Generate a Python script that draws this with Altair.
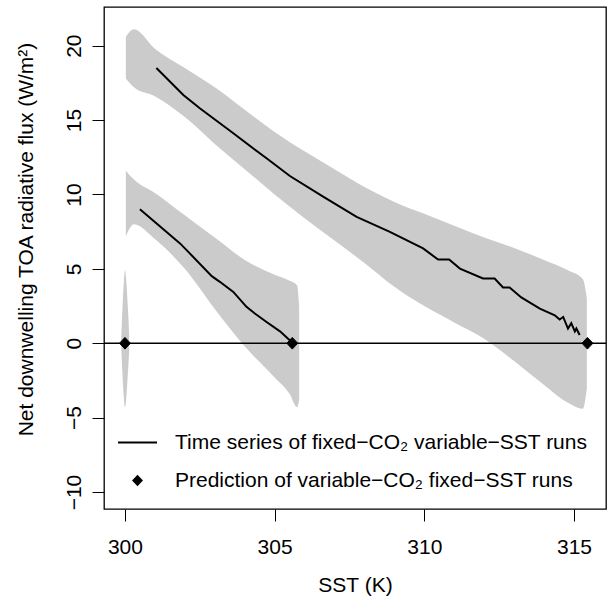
import altair as alt
import pandas as pd

FONT = "Liberation Sans"

# ---- grey point clouds (envelopes) ----
cloud_a_x = [300.03, 300.3, 301.0, 302.0, 303.0, 304.0, 305.0, 306.0, 307.0, 308.0,
             309.0, 310.0, 311.0, 312.0, 313.0, 314.0, 314.8, 315.3, 315.43]
cloud_a_hi = [20.6, 21.1, 19.8, 18.5, 17.2, 15.7, 14.2, 12.9, 11.7, 10.5,
              9.5, 8.7, 7.9, 7.1, 6.4, 5.6, 4.9, 4.3, 3.0]
cloud_a_lo = [17.8, 17.2, 16.6, 15.2, 13.4, 11.7, 10.0, 8.4, 6.9, 5.4,
              3.8, 2.5, 1.4, 0.3, -1.2, -2.8, -4.0, -4.4, -3.0]

cloud_b_x = [300.03, 300.3, 301.0, 302.0, 303.0, 304.0, 305.0, 305.5, 305.75, 305.82]
cloud_b_hi = [11.6, 11.0, 10.1, 8.6, 7.1, 5.6, 4.6, 4.2, 3.9, 2.5]
cloud_b_lo = [7.2, 8.0, 7.0, 5.0, 2.3, -0.2, -2.3, -3.4, -4.3, -3.8]

cloud_c_x = [299.88, 299.92, 299.96, 300.0, 300.04, 300.08, 300.12, 300.14]
cloud_c_hi = [0.5, 2.5, 4.0, 4.9, 4.3, 3.0, 1.5, 0.5]
cloud_c_lo = [-0.5, -2.2, -3.6, -4.3, -3.8, -2.6, -1.3, -0.5]

# ---- time series of fixed-CO2 variable-SST runs ----
line_a_x = [301.05, 301.95, 302.5, 303.62, 304.73, 305.51, 306.62, 307.74, 308.85, 309.96,
            310.46, 310.83, 311.19, 311.96, 312.35, 312.63, 312.85, 313.24, 313.86, 314.36,
            314.52, 314.64, 314.8, 314.91, 315.03, 315.08, 315.19]
line_a_y = [18.5, 16.69, 15.79, 14.11, 12.43, 11.24, 9.85, 8.5, 7.49, 6.37,
            5.63, 5.63, 5.02, 4.35, 4.35, 3.75, 3.75, 3.08, 2.33, 1.88,
            1.6, 1.77, 0.99, 1.35, 0.8, 0.99, 0.56]

line_b_x = [300.5, 301.84, 302.06, 302.9, 303.17, 303.62, 304.06, 304.34, 304.73, 305.18, 305.45, 305.56]
line_b_y = [9.0, 6.71, 6.26, 4.51, 4.13, 3.45, 2.45, 2.0, 1.43, 0.8, 0.31, 0.12]

# ---- prediction of variable-CO2 fixed-SST runs ----
pred_x = [300.0, 305.59, 315.45]
pred_y = [0.0, 0.0, 0.0]

LBL_LINE = "Time series of fixed\u2212CO\u2082 variable\u2212SST runs"
LBL_PRED = "Prediction of variable\u2212CO\u2082 fixed\u2212SST runs"

x_ticks = [300, 305, 310, 315]
y_ticks = [-10, -5, 0, 5, 10, 15, 20]

rows = []
for cid, xs, his, los in [("a", cloud_a_x, cloud_a_hi, cloud_a_lo),
                          ("b", cloud_b_x, cloud_b_hi, cloud_b_lo),
                          ("c", cloud_c_x, cloud_c_hi, cloud_c_lo)]:
    for x, h, l in zip(xs, his, los):
        rows.append({"cloud": cid, "sst": x, "hi": h, "lo": l})
clouds = pd.DataFrame(rows)

lrows = []
for rid, xs, ys in [("a", line_a_x, line_a_y), ("b", line_b_x, line_b_y)]:
    for x, y in zip(xs, ys):
        lrows.append({"run": rid, "sst": x, "flux": y, "series": LBL_LINE})
lines = pd.DataFrame(lrows)

pred = pd.DataFrame({"sst": pred_x, "flux": pred_y, "series": [LBL_PRED] * len(pred_x)})
zero = pd.DataFrame({"flux": [0.0]})

xscale = alt.Scale(domain=[299.3, 316.07], nice=False, zero=False)
yscale = alt.Scale(domain=[-11.14, 22.6], nice=False, zero=False)


def xaxis():
    return alt.Axis(values=x_ticks, title="SST (K)", titleY=82, titleBaseline="alphabetic")


def yaxis():
    return alt.Axis(values=y_ticks, title="Net downwelling TOA radiative flux (W/m\u00b2)",
                    titleAngle=270, titleX=-72, titleY=232, titleAlign="center",
                    titleBaseline="alphabetic",
                    labelExpr="replace(datum.label, '-', '\u2212')")


cloud_layer = alt.Chart(clouds).mark_area(color="#cbcbcb", interpolate="monotone").encode(
    x=alt.X("sst:Q", scale=xscale, axis=xaxis()),
    y=alt.Y("hi:Q", scale=yscale, axis=yaxis()),
    y2="lo:Q",
    detail="cloud:N",
)

zero_layer = alt.Chart(zero).mark_rule(color="black", strokeWidth=1.5).encode(
    y=alt.Y("flux:Q", scale=yscale, axis=yaxis())
)

line_layer = alt.Chart(lines).mark_line(strokeWidth=2).encode(
    x=alt.X("sst:Q", scale=xscale, axis=xaxis()),
    y=alt.Y("flux:Q", scale=yscale, axis=yaxis()),
    detail="run:N",
    color=alt.Color("series:N", scale=alt.Scale(domain=[LBL_LINE], range=["black"]),
                    legend=alt.Legend(title=None, orient="none", legendX=13, legendY=415,
                                      padding=0, labelFontSize=21, labelFont=FONT,
                                      labelColor="black", labelOffset=17, labelLimit=600,
                                      symbolType="stroke", symbolSize=1521,
                                      symbolStrokeWidth=2, symbolStrokeColor="black")),
)

DIAMOND_PATH = "M0,-0.3L0.28,0L0,0.3L-0.28,0Z"

pred_layer = alt.Chart(pred).mark_point(filled=True, fill="black", stroke="black",
                                        strokeWidth=1, opacity=1, size=1521).encode(
    x=alt.X("sst:Q", scale=xscale, axis=xaxis()),
    y=alt.Y("flux:Q", scale=yscale, axis=yaxis()),
    shape=alt.Shape("series:N",
                    scale=alt.Scale(domain=[LBL_PRED], range=[DIAMOND_PATH]),
                    legend=alt.Legend(title=None, orient="none", legendX=13, legendY=453,
                                      padding=0, labelFontSize=21, labelFont=FONT,
                                      labelColor="black", labelOffset=17, labelLimit=600,
                                      symbolSize=1521, symbolFillColor="black",
                                      symbolStrokeColor="black", symbolOpacity=1)),
)

chart = alt.layer(cloud_layer, zero_layer, line_layer, pred_layer).properties(
    width=502, height=502,
    autosize=alt.AutoSizeParams(type="none"),
    padding={"left": 104, "top": 7, "right": 1, "bottom": 88},
).configure(font=FONT).configure_view(
    stroke="black", strokeWidth=1.3
).configure_axis(
    domain=False, grid=False, tickSize=12, tickColor="black", tickWidth=1,
    labelFontSize=21, labelColor="black", labelFont=FONT,
    titleFontSize=21, titleFontWeight="normal", titleColor="black", titleFont=FONT,
).configure_axisX(
    labelPadding=15
).configure_axisY(
    labelPadding=12, labelAngle=270, labelAlign="center", labelBaseline="alphabetic"
)

chart.save("out.html", embed_options={"renderer": "svg", "actions": False})
